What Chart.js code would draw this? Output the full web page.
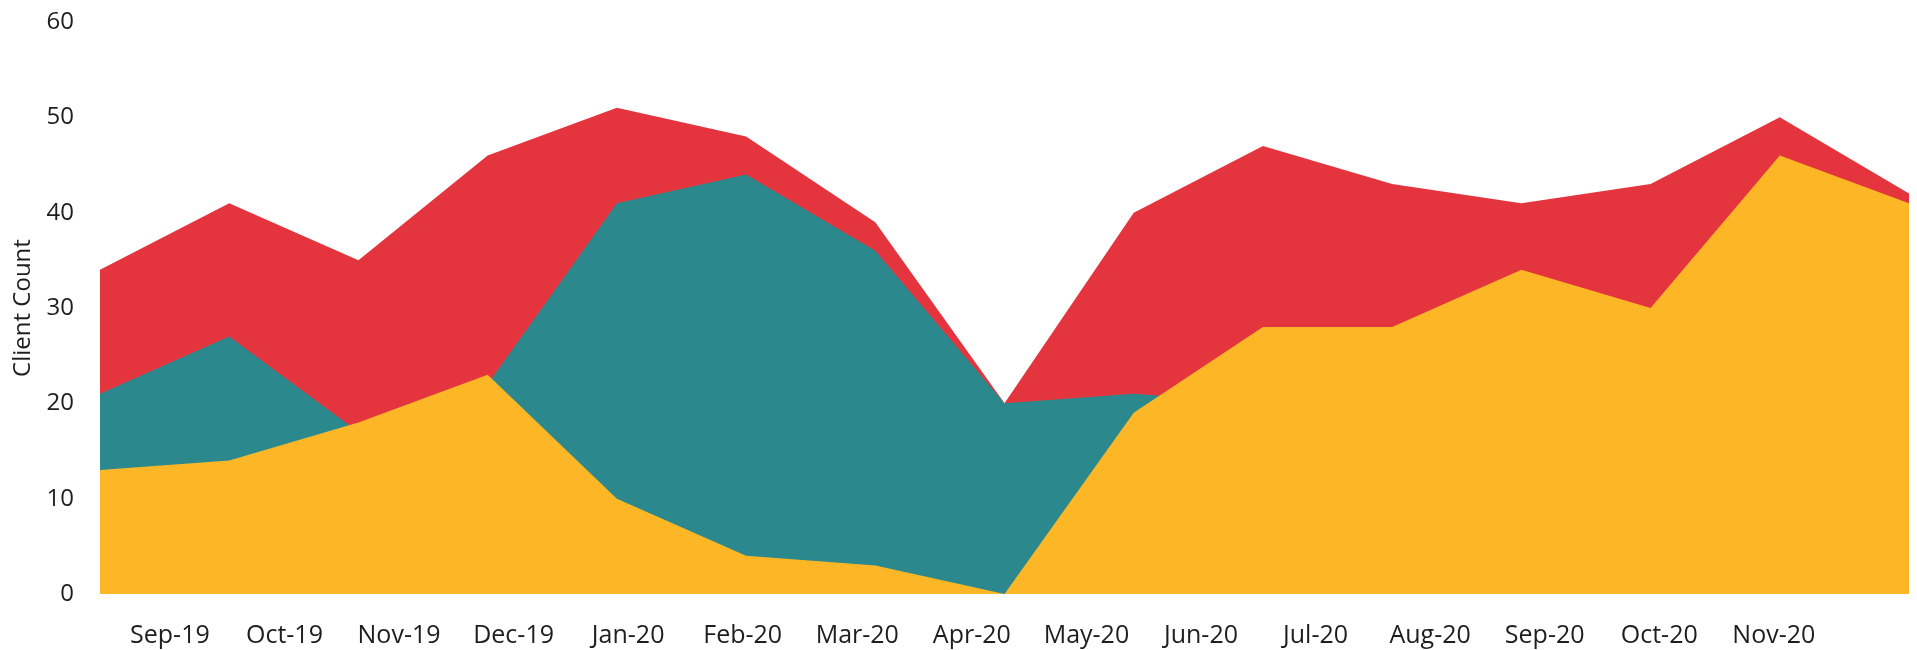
<!DOCTYPE html>
<html>
<head>
<meta charset="utf-8">
<title>Client Count</title>
<script src="https://cdn.jsdelivr.net/npm/chart.js@4"></script>
<style>
    html, body { margin: 0; padding: 0; background: #fff; }
    #wrap { width: 1917px; height: 650px; position: relative; }
</style>
</head>
<body>
<div id="wrap"><canvas id="clientChart"></canvas></div>
<script>
// month labels shown under the chart
const monthLabels = [
    'Sep-19', 'Oct-19', 'Nov-19', 'Dec-19', 'Jan-20', 'Feb-20', 'Mar-20', 'Apr-20',
    'May-20', 'Jun-20', 'Jul-20', 'Aug-20', 'Sep-20', 'Oct-20', 'Nov-20'
];

// one value per point, overlapping areas (not stacked)
const yellowSeries = [13, 14, 18, 23, 10, 4, 3, 0, 19, 28, 28, 34, 30, 46, 41];
const tealSeries = [21, 27, 17, 22, 41, 44, 36, 20, 21, 20, null, null, null, null, null];
const redSeries = [34, 41, 35, 46, 51, 48, 39, 20, 40, 47, 43, 41, 43, 50, 42];

const yTicks = [0, 10, 20, 30, 40, 50, 60];

const textColor = '#1e1e1e';
const fontFamily = "'Open Sans', 'Noto Sans', sans-serif";

function areaDataset(label, data, color) {
    return {
        label: label,
        data: data,
        xAxisID: 'x',
        yAxisID: 'y',
        backgroundColor: color,
        borderColor: color,
        borderWidth: 0,
        pointRadius: 0,
        pointHoverRadius: 0,
        tension: 0,
        fill: 'origin',
        spanGaps: false
    };
}

function getOptions() {
    return {
        type: 'line',
        data: {
            labels: monthLabels.map((m, i) => i),
            // first dataset is painted last, so yellow sits on top
            datasets: [
                areaDataset('Yellow', yellowSeries, '#fdb726'),
                areaDataset('Teal', tealSeries, '#2b898e'),
                areaDataset('Red', redSeries, '#e4353e')
            ]
        },
        options: {
            responsive: true,
            maintainAspectRatio: false,
            animation: false,
            layout: {
                padding: { top: 22, right: 8, bottom: 0, left: 0 }
            },
            plugins: {
                legend: { display: false },
                tooltip: { enabled: false }
            },
            scales: {
                x: {
                    type: 'category',
                    display: false,
                    offset: false
                },
                months: {
                    type: 'linear',
                    position: 'bottom',
                    min: -0.61,
                    max: 15.18,
                    grid: { display: false, drawTicks: false },
                    border: { display: false },
                    afterBuildTicks: (axis) => {
                        axis.ticks = monthLabels.map((m, i) => ({ value: i }));
                    },
                    afterFit: (axis) => {
                        axis.height = 56;
                    },
                    ticks: {
                        autoSkip: false,
                        maxRotation: 0,
                        padding: 27,
                        color: textColor,
                        font: { family: fontFamily, size: 25 },
                        callback: (value) => monthLabels[value]
                    }
                },
                y: {
                    min: 0,
                    max: 60,
                    grid: { display: false, drawTicks: false },
                    border: { display: false },
                    afterBuildTicks: (axis) => {
                        axis.ticks = yTicks.map(v => ({ value: v }));
                    },
                    afterFit: (axis) => {
                        axis.width = 100;
                        axis.paddingTop = 0;
                        axis.paddingBottom = 0;
                    },
                    ticks: {
                        padding: 26,
                        color: textColor,
                        font: { family: fontFamily, size: 24 }
                    },
                    title: {
                        display: true,
                        text: 'Client Count',
                        color: textColor,
                        padding: { top: 9, bottom: 0 },
                        font: { family: fontFamily, size: 24 }
                    }
                }
            }
        }
    };
}

try {
    const element = document.getElementById('clientChart');
    new Chart(element, getOptions());
} catch (error) {
    console.error(error.message);
}
</script>
</body>
</html>
